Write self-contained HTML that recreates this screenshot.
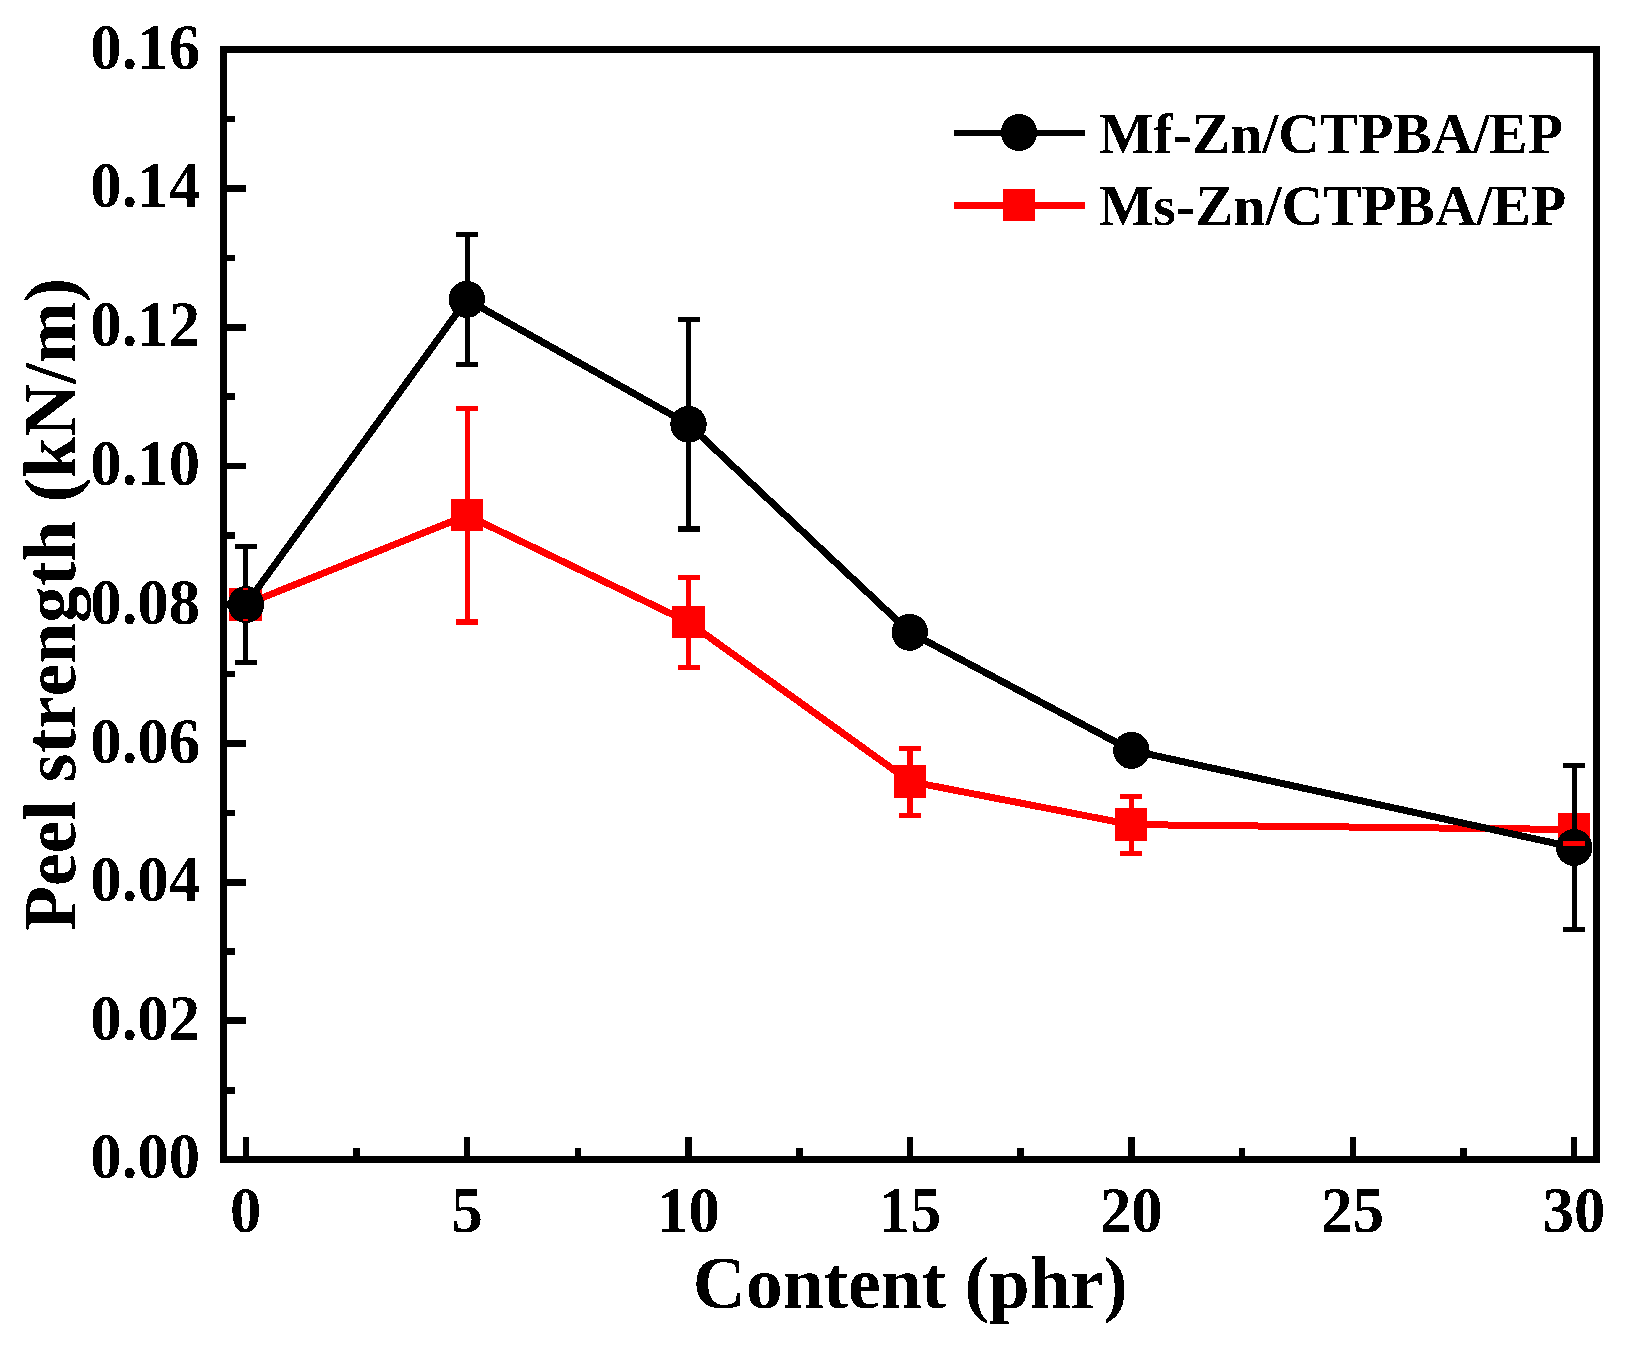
<!DOCTYPE html>
<html lang="en"><head><meta charset="utf-8"><title>Peel strength vs content</title>
<style>html,body{margin:0;padding:0;background:#fff}body{width:1626px;height:1346px;overflow:hidden}svg{display:block}text{font-family:"Liberation Serif","Times New Roman",serif;font-weight:bold;fill:#000;font-kerning:none}</style>
</head><body>
<svg width="1626" height="1346" viewBox="0 0 1626 1346">
<defs><filter id="thr" x="-5%" y="-20%" width="110%" height="140%" color-interpolation-filters="sRGB"><feComponentTransfer><feFuncA type="discrete" tableValues="0 1"/></feComponentTransfer></filter></defs>
<rect x="0" y="0" width="1626" height="1346" fill="#fff"/>
<g shape-rendering="crispEdges">
<g fill="#000">
<rect x="220" y="46" width="1380" height="7"/>
<rect x="220" y="1156" width="1380" height="7"/>
<rect x="220" y="46" width="7" height="1117"/>
<rect x="1593" y="46" width="7" height="1117"/>
<rect x="226" y="116" width="9" height="6"/>
<rect x="226" y="185" width="20" height="7"/>
<rect x="226" y="255" width="9" height="6"/>
<rect x="226" y="324" width="20" height="7"/>
<rect x="226" y="393" width="9" height="7"/>
<rect x="226" y="463" width="20" height="6"/>
<rect x="226" y="532" width="9" height="7"/>
<rect x="226" y="601" width="20" height="7"/>
<rect x="226" y="671" width="9" height="6"/>
<rect x="226" y="740" width="20" height="7"/>
<rect x="226" y="810" width="9" height="6"/>
<rect x="226" y="879" width="20" height="7"/>
<rect x="226" y="948" width="9" height="7"/>
<rect x="226" y="1017" width="20" height="7"/>
<rect x="226" y="1087" width="9" height="7"/>
<rect x="243" y="1137" width="6" height="20"/>
<rect x="353" y="1148" width="7" height="9"/>
<rect x="464" y="1137" width="6" height="20"/>
<rect x="575" y="1148" width="6" height="9"/>
<rect x="685" y="1137" width="7" height="20"/>
<rect x="796" y="1148" width="7" height="9"/>
<rect x="907" y="1137" width="6" height="20"/>
<rect x="1017" y="1148" width="7" height="9"/>
<rect x="1128" y="1137" width="7" height="20"/>
<rect x="1239" y="1148" width="6" height="9"/>
<rect x="1350" y="1137" width="6" height="20"/>
<rect x="1460" y="1148" width="7" height="9"/>
<rect x="1571" y="1137" width="6" height="20"/>
</g>
<polyline points="245.7,604.5 467.0,515.3 688.6,622.3 910.0,781.5 1131.1,824.6 1574.0,829.5" fill="none" stroke="#ff0000" stroke-width="7" stroke-linejoin="round"/>
<g fill="#ff0000">
<rect x="229" y="588" width="33" height="33"/>
<rect x="451" y="499" width="32" height="32"/>
<rect x="672" y="606" width="33" height="32"/>
<rect x="894" y="765" width="32" height="33"/>
<rect x="1115" y="808" width="32" height="33"/>
<rect x="1558" y="813" width="32" height="33"/>
</g>
<g fill="#ff0000">
<rect x="465" y="406" width="5" height="219"/>
<rect x="456" y="406" width="22" height="5"/>
<rect x="456" y="619" width="22" height="6"/>
<rect x="686" y="575" width="5" height="95"/>
<rect x="678" y="575" width="22" height="5"/>
<rect x="678" y="665" width="22" height="5"/>
<rect x="907" y="746" width="6" height="72"/>
<rect x="899" y="746" width="22" height="5"/>
<rect x="899" y="813" width="22" height="5"/>
<rect x="1129" y="794" width="5" height="62"/>
<rect x="1120" y="794" width="22" height="5"/>
<rect x="1120" y="851" width="22" height="5"/>
</g>
<polyline points="246.0,604.5 466.8,299.4 688.5,424.3 909.8,632.3 1131.4,750.4 1574.2,847.5" fill="none" stroke="#000" stroke-width="7" stroke-linejoin="round"/>
<g fill="#000">
<rect x="243" y="544" width="5" height="121"/>
<rect x="235" y="544" width="22" height="5"/>
<rect x="235" y="660" width="22" height="5"/>
<rect x="465" y="232" width="5" height="135"/>
<rect x="456" y="232" width="22" height="5"/>
<rect x="456" y="362" width="22" height="5"/>
<rect x="686" y="317" width="5" height="215"/>
<rect x="678" y="317" width="22" height="5"/>
<rect x="678" y="526" width="22" height="6"/>
<rect x="1572" y="763" width="5" height="169"/>
<rect x="1563" y="763" width="22" height="5"/>
<rect x="1563" y="927" width="22" height="5"/>
</g>
<g fill="#000">
<ellipse cx="246.0" cy="604.5" rx="18.2" ry="18.5"/>
<ellipse cx="466.8" cy="299.4" rx="18.2" ry="18.5"/>
<ellipse cx="688.5" cy="424.3" rx="18.2" ry="18.5"/>
<ellipse cx="909.8" cy="632.3" rx="18.2" ry="18.5"/>
<ellipse cx="1131.4" cy="750.4" rx="18.2" ry="18.5"/>
<ellipse cx="1574.2" cy="847.5" rx="18.2" ry="18.5"/>
</g>
<rect x="243" y="588" width="5" height="2" fill="#ff0000"/>
<rect x="243" y="619" width="5" height="2" fill="#ff0000"/>
<rect x="1563" y="841" width="22" height="5" fill="#ff0000"/>
<rect x="954" y="130" width="131" height="6" fill="#000"/>
<ellipse cx="1019" cy="132.5" rx="18.2" ry="18.5" fill="#000"/>
<rect x="954" y="202" width="131" height="7" fill="#ff0000"/>
<rect x="1003" y="189" width="32" height="32" fill="#ff0000"/>
</g>
<g filter="url(#thr)">
<text transform="translate(200 1178.3) scale(1 1.03)" font-size="62.7" text-anchor="end">0.00</text>
<text transform="translate(200 1039.7) scale(1 1.03)" font-size="62.7" text-anchor="end">0.02</text>
<text transform="translate(200 901) scale(1 1.03)" font-size="62.7" text-anchor="end">0.04</text>
<text transform="translate(200 762.5) scale(1 1.03)" font-size="62.7" text-anchor="end">0.06</text>
<text transform="translate(200 624) scale(1 1.03)" font-size="62.7" text-anchor="end">0.08</text>
<text transform="translate(200 485.2) scale(1 1.03)" font-size="62.7" text-anchor="end">0.10</text>
<text transform="translate(200 346) scale(1 1.03)" font-size="62.7" text-anchor="end">0.12</text>
<text transform="translate(200 207) scale(1 1.03)" font-size="62.7" text-anchor="end">0.14</text>
<text transform="translate(200 69.2) scale(1 1.03)" font-size="62.7" text-anchor="end">0.16</text>
<text transform="translate(245.7 1232.3) scale(1 1.03)" font-size="62.7" text-anchor="middle">0</text>
<text transform="translate(467.1 1232.3) scale(1 1.03)" font-size="62.7" text-anchor="middle">5</text>
<text transform="translate(688.5 1232.3) scale(1 1.03)" font-size="62.7" text-anchor="middle">10</text>
<text transform="translate(909.9 1232.3) scale(1 1.03)" font-size="62.7" text-anchor="middle">15</text>
<text transform="translate(1131.3 1232.3) scale(1 1.03)" font-size="62.7" text-anchor="middle">20</text>
<text transform="translate(1352.7 1232.3) scale(1 1.03)" font-size="62.7" text-anchor="middle">25</text>
<text transform="translate(1574.1 1232.3) scale(1 1.03)" font-size="62.7" text-anchor="middle">30</text>
<text x="910.3" y="1308.2" font-size="73.5" text-anchor="middle">Content (phr)</text>
<text transform="translate(75.3 604.4) rotate(-90)" font-size="73.5" text-anchor="middle">Peel strength (kN/m)</text>
<text x="1099" y="152.8" font-size="57.6">Mf-Zn/CTPBA/EP</text>
<text x="1099" y="225" font-size="57.6">Ms-Zn/CTPBA/EP</text>
</g>
</svg></body></html>
